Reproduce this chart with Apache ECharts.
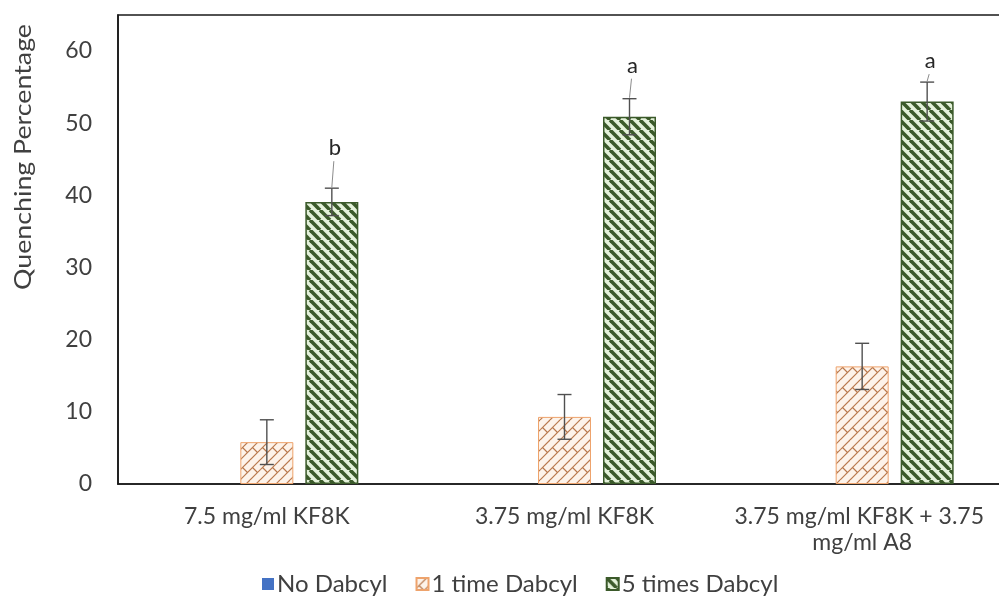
<!DOCTYPE html>
<html>
<head>
<meta charset="utf-8">
<script src="https://cdn.jsdelivr.net/npm/echarts@6/dist/echarts.min.js"></script>
<style>
  html, body { margin: 0; padding: 0; background: #ffffff; overflow: hidden; }
  #chart { width: 1011px; height: 597px; }
</style>
</head>
<body>
<div id="chart"></div>
<script>
// ---- data ----
const categories = ['7.5 mg/ml KF8K', '3.75 mg/ml KF8K', '3.75 mg/ml KF8K + 3.75 mg/ml A8'];
const seriesNames = ['No Dabcyl', '1 time Dabcyl', '5 times Dabcyl'];
const noDabcyl = [0, 0, 0];
const oneTime = [5.8, 9.3, 16.3];
const oneTimeErr = [3.1, 3.1, 3.2];
const fiveTimes = [39.1, 50.9, 53.0];
const fiveTimesErr = [1.9, 2.5, 2.7];
const letters = ['b', 'a', 'a'];
const yTitle = 'Quenching Percentage';

// ---- layout constants ----
const BAR_W = 53;
const BAR_GAP = 12;
const STEP = BAR_W + BAR_GAP;
const ERR_COLOR = '#505050';
const FONT = 'Lato, "Open Sans", sans-serif';
const TEXT_COLOR = '#404040';
const FS = 23;                       // common text size
const letterLift = [40, 33, 21];     // distance of each letter above its error cap
const TITLE_LEN = 266;               // drawn length of the rotated y title

// ---- fill patterns ----
function stripePattern() {
  const s = 10;
  const c = document.createElement('canvas');
  c.width = c.height = s;
  const g = c.getContext('2d');
  g.fillStyle = '#e4f2da';
  g.fillRect(0, 0, s, s);
  g.strokeStyle = '#3b5a2a';
  g.lineWidth = 3.6;
  for (const k of [-1, 0, 1]) {
    g.beginPath();
    g.moveTo(k * s, 0);
    g.lineTo(k * s + s, s);
    g.stroke();
  }
  return c;
}

function brickPattern() {
  const s = 20;
  const h = s / 2;
  const c = document.createElement('canvas');
  c.width = c.height = s;
  const g = c.getContext('2d');
  g.fillStyle = '#fdf3ea';
  g.fillRect(0, 0, s, s);
  g.strokeStyle = '#b9784c';
  g.lineWidth = 1.2;
  for (let k = 0; k <= 3 * s; k += h) {
    g.beginPath();
    g.moveTo(k, 0);
    g.lineTo(k - 2 * s, 2 * s);
    g.stroke();
  }
  for (const dx of [-s, 0, s]) {
    for (const dy of [-s, 0, s]) {
      g.beginPath();
      g.moveTo(dx + 2.5, dy + 7.5); g.lineTo(dx + 7.5, dy + 12.5);
      g.moveTo(dx + 12.5, dy + 7.5); g.lineTo(dx + 17.5, dy + 12.5);
      g.stroke();
    }
  }
  return c;
}

const brickFill = { image: brickPattern(), repeat: 'repeat' };
const stripeFill = { image: stripePattern(), repeat: 'repeat' };

// ---- error bars (and significance letters) ----
function errorRenderer(slot, withLetters) {
  return function (params, api) {
    const i = api.value(0);
    const v = api.value(1);
    const e = api.value(2);
    const x = api.coord([i, v])[0] + slot * STEP;
    const hi = api.coord([i, v + e])[1];
    const lo = api.coord([i, v - e])[1];
    const half = 7;
    const stroke = { stroke: ERR_COLOR, lineWidth: 1.4 };
    const children = [
      { type: 'line', shape: { x1: x, y1: hi, x2: x, y2: lo }, style: stroke },
      { type: 'line', shape: { x1: x - half, y1: hi, x2: x + half, y2: hi }, style: stroke },
      { type: 'line', shape: { x1: x - half, y1: lo, x2: x + half, y2: lo }, style: stroke }
    ];
    if (withLetters) {
      const ly = hi - letterLift[params.dataIndex];
      children.push({
        type: 'text',
        style: {
          x: x + 3, y: ly, text: letters[params.dataIndex],
          align: 'center', verticalAlign: 'middle',
          font: '22px ' + FONT, fill: '#262626'
        }
      });
      if (hi - (ly + 13) > 3) {
        children.push({
          type: 'line',
          shape: { x1: x + 2, y1: ly + 13, x2: x, y2: hi - 1 },
          style: { stroke: '#8c8c8c', lineWidth: 1 }
        });
      }
    }
    return { type: 'group', children };
  };
}

function errorData(values, errs) {
  return values.map((v, i) => [i, v, errs[i]]);
}

// ---- y title, stretched to its drawn length ----
const titleFont = (FS + 1) + 'px ' + FONT;
const measure = document.createElement('canvas').getContext('2d');
measure.font = titleFont;
const titleScale = TITLE_LEN / measure.measureText(yTitle).width;

const chart = echarts.init(document.getElementById('chart'), null, { renderer: 'canvas' });

chart.setOption({
  backgroundColor: '#ffffff',
  animation: false,
  textStyle: { fontFamily: FONT },
  grid: {
    left: 118, right: 0, top: 15, bottom: 113,
    show: true, borderColor: '#1a1a1a', borderWidth: 1.6, backgroundColor: 'transparent'
  },
  legend: {
    data: seriesNames,
    left: 257, top: 567,
    itemWidth: 12, itemHeight: 12, itemGap: 28,
    icon: 'rect',
    textStyle: { fontFamily: FONT, fontSize: 24, color: TEXT_COLOR, padding: [0, 0, 0, -2] }
  },
  graphic: [{
    type: 'text',
    x: 23, y: 157,
    rotation: Math.PI / 2,
    scaleX: titleScale,
    style: {
      text: yTitle, font: titleFont, fill: TEXT_COLOR,
      align: 'center', verticalAlign: 'middle'
    }
  }],
  xAxis: {
    type: 'category',
    data: categories,
    axisLine: { show: true, lineStyle: { color: '#1a1a1a', width: 1.6 } },
    axisTick: { show: false },
    axisLabel: {
      margin: 20, interval: 0,
      width: 270, overflow: 'break',
      fontFamily: FONT, fontSize: FS, lineHeight: 26, color: TEXT_COLOR
    },
    splitLine: { show: false }
  },
  yAxis: {
    type: 'value',
    min: 0, max: 65, interval: 10,
    axisLine: { show: true, lineStyle: { color: '#1a1a1a', width: 1.6 } },
    axisTick: { show: false },
    splitLine: { show: false },
    axisLabel: {
      showMaxLabel: false, margin: 26,
      fontFamily: FONT, fontSize: FS, color: TEXT_COLOR
    }
  },
  series: [
    {
      name: seriesNames[0], type: 'bar', data: noDabcyl,
      barWidth: BAR_W, barGap: (BAR_GAP / BAR_W * 100) + '%',
      itemStyle: { color: '#4472c4' }
    },
    {
      name: seriesNames[1], type: 'bar', data: oneTime,
      barWidth: BAR_W,
      itemStyle: { color: brickFill, borderColor: '#eea36c', borderWidth: 1 }
    },
    {
      name: seriesNames[2], type: 'bar', data: fiveTimes,
      barWidth: BAR_W,
      itemStyle: { color: stripeFill, borderColor: '#3b5a2a', borderWidth: 1.5 }
    },
    {
      type: 'custom', name: 'err1', z: 5,
      renderItem: errorRenderer(0, false),
      data: errorData(oneTime, oneTimeErr)
    },
    {
      type: 'custom', name: 'err2', z: 5,
      renderItem: errorRenderer(1, true),
      data: errorData(fiveTimes, fiveTimesErr)
    }
  ]
});
</script>
</body>
</html>
